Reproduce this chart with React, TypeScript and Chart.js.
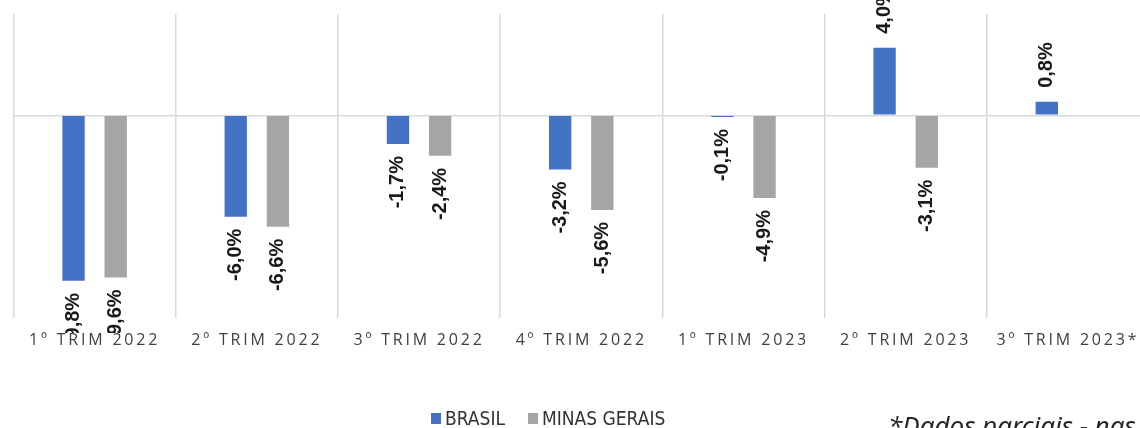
import React, { useEffect, useRef } from 'react';
import { Chart, registerables } from 'chart.js';

Chart.register(...registerables);

const categories = [
  '1º TRIM 2022',
  '2º TRIM 2022',
  '3º TRIM 2022',
  '4º TRIM 2022',
  '1º TRIM 2023',
  '2º TRIM 2023',
  '3º TRIM 2023*',
];
const brasil = [-9.8, -6.0, -1.7, -3.2, -0.1, 4.0, 0.8];
const minasGerais = [-9.6, -6.6, -2.4, -5.6, -4.9, -3.1, null];
const seriesNames = ['BRASIL', 'MINAS GERAIS'];
const seriesColors = ['#4472C4', '#A5A5A5'];
const yMin = -12;
const yMax = 6;
const yStep = 6;
const footnote = '*Dados parciais - nas';

const fmt = (v: number) => v.toFixed(1).replace('.', ',') + '%';

const labelPlugin = {
  id: 'rotLabels',
  beforeDraw(chart: any) {
    chart.ctx.letterSpacing = '2.8px';
  },
  afterDatasetsDraw(chart: any) {
    const ctx = chart.ctx;
    ctx.save();
    ctx.letterSpacing = '0px';
    ctx.beginPath();
    ctx.rect(0, -60, chart.width, chart.chartArea.bottom + 15 + 60);
    ctx.clip();
    ctx.font = 'bold 20px "Liberation Sans", Arial, sans-serif';
    ctx.fillStyle = '#1a1a1a';
    ctx.textBaseline = 'middle';
    chart.data.datasets.forEach((ds: any, di: number) => {
      const meta = chart.getDatasetMeta(di);
      meta.data.forEach((bar: any, i: number) => {
        const v = ds.data[i];
        if (v == null) return;
        const { x, y } = bar.getProps(['x', 'y'], true);
        ctx.save();
        if (v < 0) {
          ctx.translate(x, y + 12);
          ctx.rotate(-Math.PI / 2);
          ctx.textAlign = 'right';
        } else {
          ctx.translate(x, y - 14);
          ctx.rotate(-Math.PI / 2);
          ctx.textAlign = 'left';
        }
        ctx.fillText(fmt(v), 0, 0);
        ctx.restore();
      });
    });
    ctx.restore();
  },
};

export default function App() {
  const ref = useRef<HTMLCanvasElement>(null);
  useEffect(() => {
    const chart = new Chart(ref.current as HTMLCanvasElement, {
      type: 'bar',
      data: {
        labels: categories,
        datasets: [
          { label: seriesNames[0], data: brasil, backgroundColor: seriesColors[0] },
          { label: seriesNames[1], data: minasGerais as any, backgroundColor: seriesColors[1] },
        ],
      },
      options: {
        responsive: false,
        animation: false,
        devicePixelRatio: 1,
        layout: { padding: { left: 13.5, right: 11, top: 14, bottom: 64.8 } },
        plugins: { legend: { display: false }, tooltip: { enabled: false } },
        datasets: { bar: { categoryPercentage: 0.52, barPercentage: 0.53 } },
        scales: {
          x: {
            grid: { color: '#d9d9d9', lineWidth: 1.5, drawTicks: false, offset: true },
            border: { display: false },
            ticks: {
              color: '#404040',
              font: { family: '"Open Sans"', size: 16 },
              padding: 13,
              autoSkip: false,
              maxRotation: 0,
            },
          },
          y: {
            min: yMin,
            max: yMax,
            grid: {
              color: (c: any) => (c.tick && c.tick.value === 0 ? '#d9d9d9' : 'rgba(0,0,0,0)'),
              lineWidth: 1.5,
              drawTicks: false,
            },
            border: { display: false },
            ticks: { display: false, stepSize: yStep },
          },
        },
      } as any,
      plugins: [labelPlugin],
    });
    return () => chart.destroy();
  }, []);

  const legendText: React.CSSProperties = {
    position: 'absolute',
    top: 407,
    fontFamily: '"DejaVu Sans Condensed", "DejaVu Sans", sans-serif',
    fontStretch: 'condensed',
    fontSize: 19,
    lineHeight: '22px',
    color: '#333333',
    whiteSpace: 'nowrap',
  };
  const sq = (left: number, color: string): React.CSSProperties => ({
    position: 'absolute',
    left,
    top: 413,
    width: 10,
    height: 11,
    background: color,
  });

  return (
    <div
      style={{
        position: 'fixed',
        left: 0,
        top: 0,
        width: 1140,
        height: 428,
        overflow: 'hidden',
        background: '#fff',
      }}
    >
      <canvas ref={ref} width={1160} height={428} style={{ position: 'absolute', left: 0, top: 0, display: 'block' }} />
      <div style={sq(431, seriesColors[0])} />
      <div style={{ ...legendText, left: 445 }}>{seriesNames[0]}</div>
      <div style={sq(528, seriesColors[1])} />
      <div style={{ ...legendText, left: 542 }}>{seriesNames[1]}</div>
      <div
        style={{
          position: 'absolute',
          left: 888,
          top: 410,
          fontFamily: '"Noto Sans", sans-serif',
          fontStyle: 'italic',
          fontSize: 26,
          lineHeight: '30px',
          color: '#262626',
          whiteSpace: 'nowrap',
        }}
      >
        {footnote}
      </div>
    </div>
  );
}
